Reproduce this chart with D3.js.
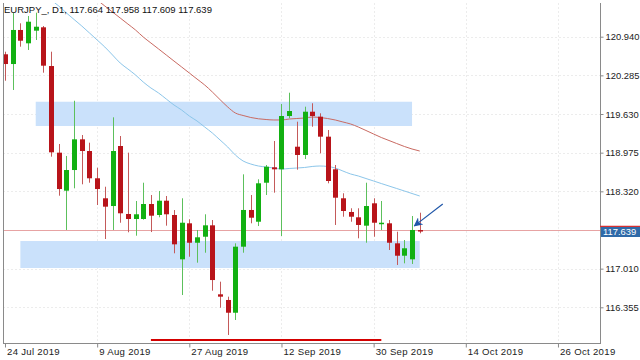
<!DOCTYPE html>
<html><head><meta charset="utf-8">
<script src="https://cdn.jsdelivr.net/npm/d3@7"></script>
<style>html,body{margin:0;padding:0;background:#fff;}svg{display:block;font-family:"Liberation Sans",Arial,sans-serif;}</style>
</head><body><svg id="c" width="640" height="360"></svg>
<script>
// ---- data ----
const barIndex = [0,1,2,3,4,5,6,7,8,9,10,11,12,13,14,15,16,17,18,19,20,21,22,23,24,25,26,27,28,29,30,31,32,33,34,35,36,37,38,39,40,41,42,43,44,45,46,47,48,49,50,51,52,53,54];
const openP  = [120.642,120.477,121.054,120.828,121.042,121.099,120.443,118.975,118.331,118.681,119.201,119.003,118.541,118.202,118.071,119.088,117.936,117.851,117.851,118.105,117.919,118.161,117.919,117.168,117.778,117.449,117.551,117.744,116.575,116.479,116.263,117.382,118.004,117.805,118.466,118.727,118.693,119.596,119.076,118.936,119.669,119.585,119.246,118.693,118.202,117.970,117.880,117.738,118.117,117.778,117.778,117.439,117.229,117.168,117.664];
const highP  = [120.686,121.341,121.167,121.291,121.347,121.121,120.686,119.122,118.919,119.855,119.274,119.144,118.720,118.398,119.574,119.257,118.975,118.156,118.466,118.258,118.326,118.241,118.003,118.202,117.846,117.665,117.931,117.834,116.789,116.535,117.439,118.608,118.258,118.524,118.766,119.173,119.800,119.991,119.500,119.754,119.812,119.642,119.359,118.766,118.287,118.033,118.033,118.466,118.202,118.156,117.834,117.636,117.495,117.902,117.958];
const lowP   = [120.194,120.037,120.771,120.715,120.884,120.330,118.907,118.246,117.665,118.371,118.439,118.466,118.088,117.512,117.665,117.788,117.626,117.568,117.840,117.630,117.880,117.738,117.270,116.563,117.212,117.111,117.280,116.636,116.348,115.886,116.140,117.280,117.778,117.732,118.258,118.297,117.563,119.558,118.687,118.868,119.415,118.964,118.456,117.750,117.890,117.805,117.524,117.449,117.551,117.665,117.326,117.072,117.100,117.089,117.609];
const closeP = [120.477,121.054,120.872,121.194,121.109,120.449,118.981,118.359,118.681,119.201,119.003,118.541,118.359,118.060,119.003,117.948,117.851,117.931,118.105,117.907,118.161,117.931,117.422,117.788,117.449,117.541,117.744,116.817,116.535,116.263,117.382,118.004,117.873,118.456,118.737,118.693,119.596,119.681,118.936,119.669,119.596,119.246,118.495,118.212,117.987,117.890,117.750,118.071,117.788,117.788,117.449,117.229,117.355,117.665,117.639];

const maBlueIndex = [5,6,7,8,9,10,11,12,13,14,15,16,17,18,19,20,21,22,23,24,25,26,27,28,29,30,31,32,33,34,35,36,37,38,39,40,41,42,43,44,45,46,47,48,49,50,51,52,53,54];
const maBlue = [121.664,121.562,121.460,121.342,121.231,121.121,121.003,120.884,120.765,120.630,120.494,120.393,120.291,120.172,120.071,119.986,119.884,119.783,119.698,119.596,119.512,119.410,119.308,119.190,119.071,118.935,118.834,118.783,118.749,118.732,118.715,118.698,118.707,118.715,118.724,118.741,118.749,118.741,118.715,118.664,118.614,118.580,118.537,118.495,118.452,118.410,118.368,118.326,118.283,118.241];
const maRedIndex = [11,12,13,14,15,16,17,18,19,20,21,22,23,24,25,26,27,28,29,30,31,32,33,34,35,36,37,38,39,40,41,42,43,44,45,46,47,48,49,50,51,52,53,54];
const maRed = [121.664,121.562,121.460,121.358,121.257,121.155,121.053,120.935,120.833,120.732,120.630,120.528,120.427,120.325,120.223,120.122,120.003,119.874,119.749,119.647,119.605,119.571,119.549,119.537,119.529,119.529,119.545,119.554,119.562,119.579,119.571,119.554,119.529,119.495,119.461,119.410,119.351,119.291,119.232,119.181,119.130,119.080,119.037,119.003];

const zoneFrom  = [4, 2];
const zoneTo    = [53, 54];
const zoneTop   = [119.838, 117.478];
const zoneBot   = [119.427, 117.021];

const trendFrom = [19, 115.801];
const trendTo   = [49, 115.801];
const arrowFrom = [57.0, 118.105];
const arrowTo   = [53.3, 117.735];

const xTickIndex  = [0,12,24,36,48,60,72];
const xTickLabels = ["24 Jul 2019","9 Aug 2019","27 Aug 2019","12 Sep 2019","30 Sep 2019","14 Oct 2019","26 Oct 2019"];
const yTicks = [120.940,120.285,119.630,118.975,118.320,117.010,116.355];
const titleText = "EURJPY_, D1, 117.664 117.958 117.609 117.639";
const lastPrice = 117.639;

// ---- layout ----
const L = 3, R = 600, T = 3, B = 343;
const x = d3.scaleLinear().domain([0, 72]).range([5, 5 + 72 * 7.68]);
const y = d3.scaleLinear().domain([116.355, 120.940]).range([307.3, 36.7]);

const svg = d3.select("#c");
svg.append("defs").append("clipPath").attr("id","clip")
  .append("rect").attr("x",L).attr("y",T).attr("width",R-L).attr("height",B-T);
svg.select("defs").append("marker").attr("id","ah").attr("viewBox","0 0 10 10")
  .attr("refX",9).attr("refY",5).attr("markerWidth",9).attr("markerHeight",9)
  .attr("orient","auto").attr("markerUnits","userSpaceOnUse")
  .append("path").attr("d","M0,0 L10,5 L0,10 L3,5 Z").attr("fill","#1f56a8");

// grid
const grid = svg.append("g");
grid.selectAll("line.h").data(yTicks).join("line")
  .attr("x1",L).attr("x2",R).attr("y1",d=>Math.round(y(d))+0.5).attr("y2",d=>Math.round(y(d))+0.5)
  .attr("stroke","#ececec").attr("stroke-dasharray","2,2");
grid.selectAll("line.v").data(xTickIndex.filter(i=>x(i)>L+2 && x(i)<R)).join("line")
  .attr("y1",T).attr("y2",B).attr("x1",d=>Math.round(x(d))+0.5).attr("x2",d=>Math.round(x(d))+0.5)
  .attr("stroke","#ececec").attr("stroke-dasharray","2,2");

const plot = svg.append("g").attr("clip-path","url(#clip)");

// zones
plot.selectAll("rect.zone").data(zoneFrom.map((d,i)=>i)).join("rect")
  .attr("x",i=>x(zoneFrom[i])).attr("width",i=>x(zoneTo[i])-x(zoneFrom[i]))
  .attr("y",i=>y(zoneTop[i])).attr("height",i=>y(zoneBot[i])-y(zoneTop[i]))
  .attr("fill","#cae1fb");

// bid line
plot.append("line").attr("x1",L).attr("x2",R)
  .attr("y1",Math.round(y(lastPrice))-1.5).attr("y2",Math.round(y(lastPrice))-1.5)
  .attr("stroke","#e7a3a3").attr("stroke-width",1);

// moving averages
const lineGen = d3.line().x(d=>x(d[0])).y(d=>y(d[1])).curve(d3.curveMonotoneX);
plot.append("path").attr("d",lineGen(maBlueIndex.map((d,i)=>[d,maBlue[i]])))
  .attr("fill","none").attr("stroke","#8cc6ea").attr("stroke-width",1);
plot.append("path").attr("d",lineGen(maRedIndex.map((d,i)=>[d,maRed[i]])))
  .attr("fill","none").attr("stroke","#c96a62").attr("stroke-width",1);

// candles
const cg = plot.append("g");
const up = i => closeP[i] >= openP[i];
cg.selectAll("line.w").data(barIndex).join("line")
  .attr("x1",i=>Math.round(x(i))+0.5).attr("x2",i=>Math.round(x(i))+0.5)
  .attr("y1",i=>y(highP[i])).attr("y2",i=>y(lowP[i]))
  .attr("stroke",i=>up(i)?"#5cc05c":"#c45a5a").attr("stroke-width",1);
cg.selectAll("rect.b").data(barIndex).join("rect")
  .attr("x",i=>Math.round(x(i))-2).attr("width",5)
  .attr("y",i=>y(Math.max(openP[i],closeP[i])))
  .attr("height",i=>Math.max(1.5, Math.abs(y(openP[i])-y(closeP[i]))))
  .attr("fill",i=>up(i)?"#12b012":"#b8141a");

// trend line (support)
plot.append("line").attr("x1",x(trendFrom[0])).attr("x2",x(trendTo[0]))
  .attr("y1",y(trendFrom[1])).attr("y2",y(trendTo[1]))
  .attr("stroke","#d40000").attr("stroke-width",2);

// arrow
svg.append("line").attr("x1",x(arrowFrom[0])).attr("y1",y(arrowFrom[1]))
  .attr("x2",x(arrowTo[0])).attr("y2",y(arrowTo[1]))
  .attr("stroke","#1f56a8").attr("stroke-width",1.2).attr("marker-end","url(#ah)");

// frame
svg.append("line").attr("x1",L+0.5).attr("x2",L+0.5).attr("y1",T).attr("y2",B+0.5).attr("stroke","#8a8a8a");
svg.append("line").attr("x1",R+0.5).attr("x2",R+0.5).attr("y1",T).attr("y2",B+0.5).attr("stroke","#8a8a8a");
svg.append("line").attr("x1",L).attr("x2",R+1).attr("y1",B+0.5).attr("y2",B+0.5).attr("stroke","#8a8a8a");

// y axis (right)
const yAxis = d3.axisRight(y).tickValues(yTicks).tickSize(3).tickPadding(2).tickFormat(d3.format(".3f"));
const ya = svg.append("g").attr("transform",`translate(${R+0.5},0)`).call(yAxis);
ya.select(".domain").remove();
ya.selectAll("line").attr("stroke","#8a8a8a");
ya.selectAll("text").attr("font-size","9.4px").attr("fill","#222").attr("font-family","Liberation Sans, Arial, sans-serif");

// x axis (bottom)
const xAxis = d3.axisBottom(x).tickValues(xTickIndex).tickSize(4).tickFormat((d,i)=>xTickLabels[i]);
const xa = svg.append("g").attr("transform",`translate(0,${B+0.5})`).call(xAxis);
xa.select(".domain").remove();
xa.selectAll("line").attr("stroke","#8a8a8a");
xa.selectAll("text").attr("text-anchor","start").attr("dx","1.5px").attr("dy","0.5em")
  .attr("font-size","9.6px").attr("letter-spacing","0.3px").attr("fill","#222")
  .attr("font-family","Liberation Sans, Arial, sans-serif");

// current price label
const py = Math.round(y(lastPrice));
svg.append("line").attr("x1",R).attr("x2",640).attr("y1",py-5.5).attr("y2",py-5.5).attr("stroke","#d83030").attr("stroke-width",1.5);
svg.append("rect").attr("x",R+1).attr("y",py-5).attr("width",640-R-1).attr("height",10).attr("fill","#2f6aa8");
svg.append("text").attr("x",R+3).attr("y",py).attr("dy","0.35em").attr("font-size","9.4px")
  .attr("fill","#fff").text(d3.format(".3f")(lastPrice));

// title
svg.append("text").attr("x",4).attr("y",13).attr("font-size","9.5px").attr("fill","#111").text(titleText);
</script></body></html>
